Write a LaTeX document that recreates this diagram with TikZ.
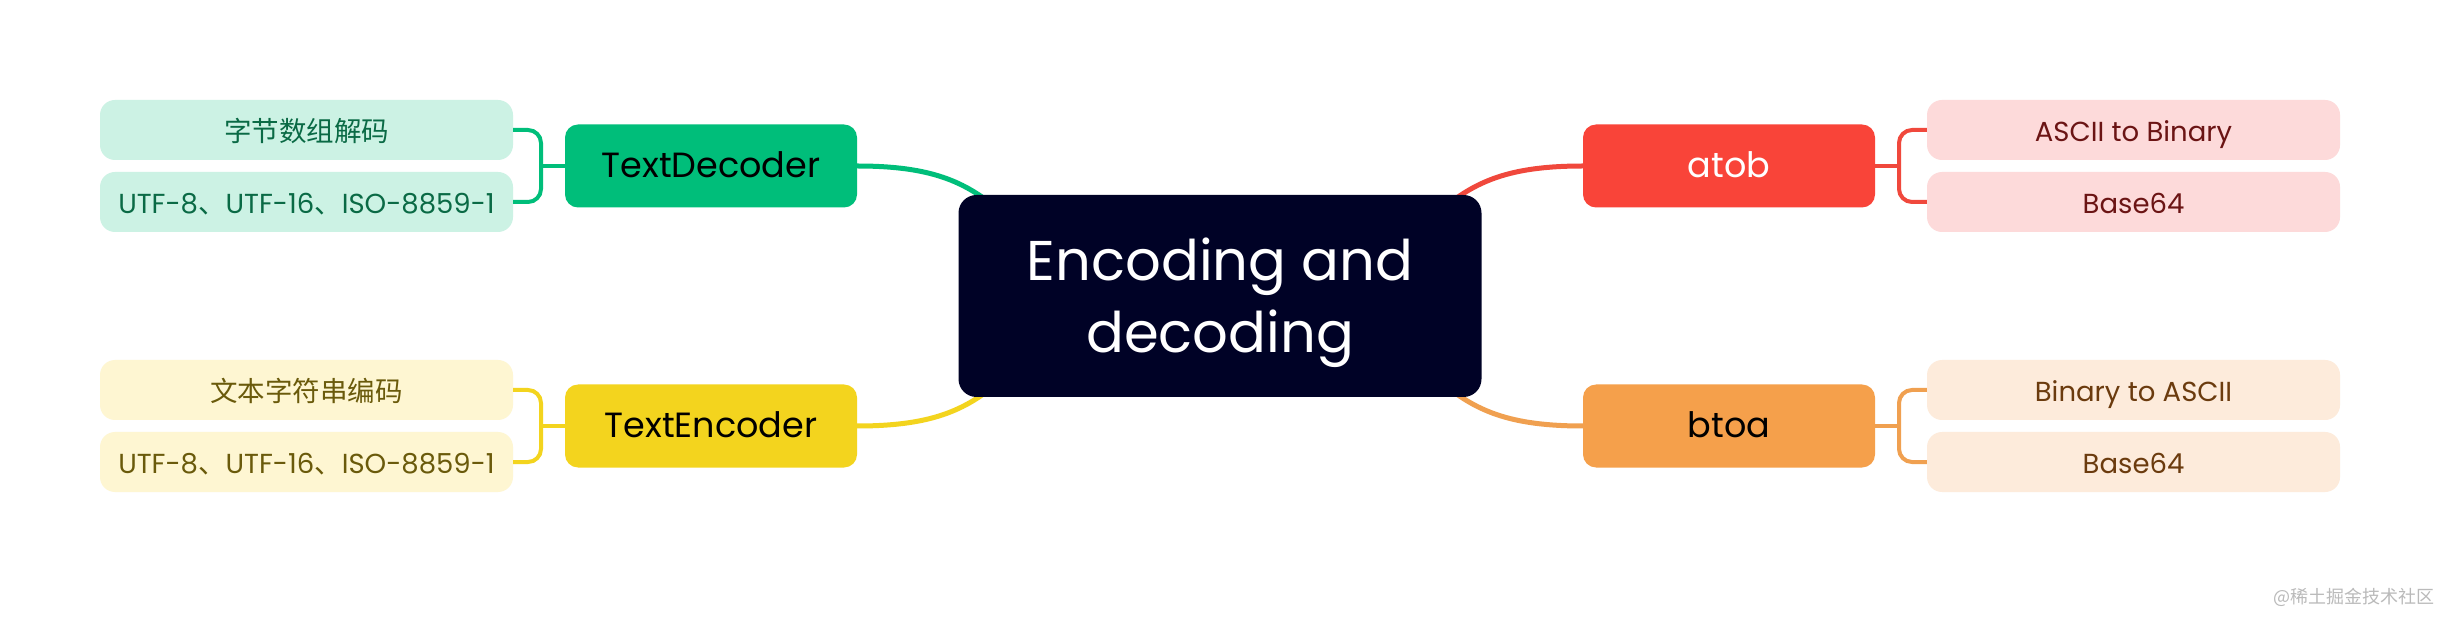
\documentclass[tikz,border=0pt]{standalone}
\usepackage{fontspec}
\setmainfont{Poppins}
\newfontfamily\cjk{Noto Sans CJK SC}
\usetikzlibrary{backgrounds}
\definecolor{navy}{RGB}{0,2,38}
\definecolor{mgreen}{RGB}{0,190,122}
\definecolor{lgreen}{RGB}{204,242,228}
\definecolor{tgreen}{RGB}{10,106,69}
\definecolor{myellow}{RGB}{243,212,30}
\definecolor{lyellow}{RGB}{254,246,210}
\definecolor{tyellow}{RGB}{106,90,11}
\definecolor{mred}{RGB}{249,68,57}
\definecolor{cred}{RGB}{240,72,60}
\definecolor{lred}{RGB}{253,218,218}
\definecolor{tred}{RGB}{107,20,20}
\definecolor{morange}{RGB}{245,160,75}
\definecolor{corange}{RGB}{240,160,80}
\definecolor{lorange}{RGB}{253,235,219}
\definecolor{torange}{RGB}{107,59,14}
\begin{document}
\begin{tikzpicture}[x=1pt,y=1pt,
  hub/.style={fill=navy, rounded corners=18pt, minimum width=523pt, minimum height=202pt,
    text=white, align=center, inner sep=0pt, font=\fontsize{56}{72}\selectfont},
  topic/.style={rounded corners=13pt, minimum width=292pt, minimum height=83pt, inner sep=0pt,
    text height=22.4pt, text depth=0pt, font=\fontsize{35}{42}\selectfont},
  leaf/.style={rounded corners=15pt, minimum width=413pt, minimum height=60pt, inner sep=0pt,
    text height=23pt, text depth=0pt, font=\fontsize{27.5}{32}\selectfont},
  link/.style={line width=5pt},
  brace/.style={line width=4pt, rounded corners=13pt},
]
\useasboundingbox (0,0) rectangle (2440,616);

% central and topic nodes
\node[hub] (C) at (1220,320) {\rule{0pt}{57pt}Encoding and\\decoding};
\node[topic, fill=mgreen] (TD) at (711,450) {TextDecoder};
\node[topic, fill=myellow] (TE) at (711,190) {TextEncoder};
\node[topic, fill=mred, text=white] (AT) at (1729,450) {atob};
\node[topic, fill=morange] (BT) at (1729,190) {btoa};

% leaves
\node[leaf, fill=lgreen, text=tgreen] (TD1) at (306.5,486) {{\cjk 字节数组解码}};
\node[leaf, fill=lgreen, text=tgreen] (TD2) at (306.5,414) {UTF-8{\cjk 、}UTF-16{\cjk 、}ISO-8859-1};
\node[leaf, fill=lyellow, text=tyellow] (TE1) at (306.5,226) {{\cjk 文本字符串编码}};
\node[leaf, fill=lyellow, text=tyellow] (TE2) at (306.5,154) {UTF-8{\cjk 、}UTF-16{\cjk 、}ISO-8859-1};
\node[leaf, fill=lred, text=tred] (AT1) at (2133.5,486) {ASCII to Binary};
\node[leaf, fill=lred, text=tred] (AT2) at (2133.5,414) {Base64};
\node[leaf, fill=lorange, text=torange] (BT1) at (2133.5,226) {Binary to ASCII};
\node[leaf, fill=lorange, text=torange] (BT2) at (2133.5,154) {Base64};

% watermark
\node[anchor=east, inner sep=0pt, text=black!27, font=\cjk\fontsize{18}{20}\selectfont] (wm) at (2435,19) {@稀土掘金技术社区};

% bracket points and curve ends
\coordinate (bTD) at (541,450);
\coordinate (bTE) at (541,190);
\coordinate (bAT) at (1899,450);
\coordinate (bBT) at (1899,190);
\coordinate (eTD) at (1000,405);
\coordinate (eTE) at (1000,235);
\coordinate (eAT) at (1440,405);
\coordinate (eBT) at (1440,235);

% brackets
\draw[brace, mgreen] (TD1.east) -| (bTD) |- (TD2.east);
\draw[brace, mgreen] (bTD) -- (TD.west);
\draw[brace, myellow] (TE1.east) -| (bTE) |- (TE2.east);
\draw[brace, myellow] (bTE) -- (TE.west);
\draw[brace, cred] (AT1.west) -| (bAT) |- (AT2.west);
\draw[brace, cred] (bAT) -- (AT.east);
\draw[brace, corange] (BT1.west) -| (bBT) |- (BT2.west);
\draw[brace, corange] (bBT) -- (BT.east);

\begin{scope}[on background layer]
  \fill[white] (0,0) rectangle (2440,616);
  \draw[link, mgreen] (TD.east) .. controls +(73,0) and +(-35,30) .. (eTD);
  \draw[link, myellow] (TE.east) .. controls +(73,0) and +(-35,-30) .. (eTE);
  \draw[link, cred] (AT.west) .. controls +(-73,0) and +(35,30) .. (eAT);
  \draw[link, corange] (BT.west) .. controls +(-73,0) and +(35,-30) .. (eBT);
\end{scope}
\end{tikzpicture}
\end{document}
